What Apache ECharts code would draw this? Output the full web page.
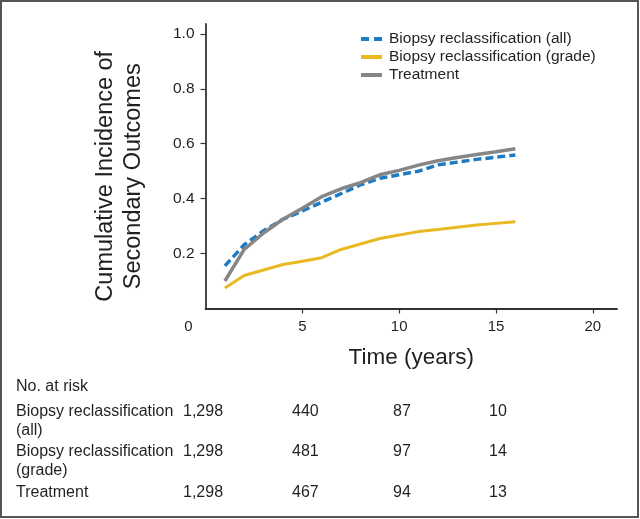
<!DOCTYPE html>
<html>
<head>
<meta charset="utf-8">
<script src="https://cdn.jsdelivr.net/npm/echarts@6/dist/echarts.min.js"></script>
<style>html,body{margin:0;padding:0;background:#fff}#c{width:640px;height:519px}</style>
</head>
<body>
<div id="c"></div>
<script>
// ---- Data ----
const seriesNames = ['Biopsy reclassification (all)', 'Biopsy reclassification (grade)', 'Treatment'];
const timeYears = [1, 2, 3, 4, 5, 6, 7, 8, 9, 10, 11, 12, 13, 14, 15, 16];
const incidenceAll = [0.155, 0.232, 0.283, 0.325, 0.355, 0.387, 0.418, 0.450, 0.474, 0.487, 0.500, 0.523, 0.533, 0.543, 0.551, 0.559];
const incidenceGrade = [0.075, 0.120, 0.140, 0.160, 0.172, 0.185, 0.215, 0.235, 0.255, 0.268, 0.280, 0.288, 0.296, 0.304, 0.310, 0.316];
const incidenceTreatment = [0.100, 0.215, 0.275, 0.325, 0.365, 0.407, 0.436, 0.458, 0.487, 0.503, 0.522, 0.538, 0.550, 0.561, 0.571, 0.582];
const xTickValues = [5, 10, 15, 20];
const xLabelValues = [0, 5, 10, 15, 20];
const yTickValues = [0.2, 0.4, 0.6, 0.8, 1.0];
const riskHeader = 'No. at risk';
const riskLabels = ['Biopsy reclassification\n(all)', 'Biopsy reclassification\n(grade)', 'Treatment'];
const riskAll = [1298, 440, 87, 10];
const riskGrade = [1298, 481, 97, 14];
const riskTreatment = [1298, 467, 94, 13];

// ---- Layout / style ----
const FONT = '"Liberation Sans", Arial, sans-serif';
const TXT = '#231f20';
const colors = ['#1d7bc3', '#e8b922', '#868686'];
const dashes = [[8, 4], 'solid', 'solid'];
const legendDashes = [[8, 5], 'solid', 'solid'];
const riskColX = [183, 292, 393, 489];
const riskRowY = [412, 452, 493];
const riskLeft = 16;

const pairs = (xs, ys) => xs.map((x, i) => [x, ys[i]]);

const graphic = [
  { type: 'rect', shape: { x: 1, y: 1, width: 637, height: 516 }, style: { fill: 'none', stroke: '#555', lineWidth: 2 }, silent: true },
  { type: 'text', x: riskLeft, y: 387, style: { text: riskHeader, fontSize: 16, fontFamily: FONT, fill: TXT, verticalAlign: 'middle' } }
];
const riskData = [riskAll, riskGrade, riskTreatment];
riskLabels.forEach((lab, r) => {
  graphic.push({ type: 'text', x: riskLeft, y: riskRowY[r] - 9.5, style: { text: lab, fontSize: 16, lineHeight: 19, fontFamily: FONT, fill: TXT, verticalAlign: 'top' } });
  riskData[r].forEach((v, c) => {
    graphic.push({ type: 'text', x: riskColX[c], y: riskRowY[r], style: { text: v.toLocaleString('en-US'), fontSize: 16, fontFamily: FONT, fill: TXT, verticalAlign: 'middle' } });
  });
});

const legendData = seriesNames.map((n, i) => ({
  name: n,
  itemStyle: { opacity: 0 },
  lineStyle: { color: colors[i], width: 4, type: legendDashes[i] }
}));

const chart = echarts.init(document.getElementById('c'), null, { renderer: 'canvas' });
chart.setOption({
  animation: false,
  backgroundColor: '#fff',
  textStyle: { fontFamily: FONT },
  grid: { left: 205.5, right: 23, top: 24, bottom: 210.5, containLabel: false },
  legend: {
    orient: 'vertical', left: 359, top: 30, padding: 0,
    data: legendData,
    itemWidth: 21, itemHeight: 10, itemGap: 0,
    itemStyle: { opacity: 0 },
    textStyle: { fontSize: 15.5, lineHeight: 18, color: TXT, fontFamily: FONT, padding: [0, 0, 0, 2] }
  },
  xAxis: {
    type: 'value', min: 0, max: 21.25,
    name: 'Time (years)', nameLocation: 'middle', nameGap: 38,
    nameTextStyle: { fontSize: 22.5, color: TXT, fontFamily: FONT },
    axisLine: { show: true, onZero: false, lineStyle: { color: '#333', width: 1.8 } },
    axisTick: { show: true, length: 5, customValues: xTickValues, lineStyle: { color: '#333', width: 1.2 } },
    axisLabel: {
      customValues: xLabelValues, margin: 11, fontSize: 15, color: TXT, fontFamily: FONT,
      formatter: v => v === 0 ? '{o|0}' : String(v),
      rich: { o: { padding: [0, 34, 0, 0], fontSize: 15, color: TXT, fontFamily: FONT } }
    },
    splitLine: { show: false }
  },
  yAxis: {
    type: 'value', min: 0, max: 1.036,
    name: 'Cumulative Incidence of\nSecondary Outcomes', nameLocation: 'middle', nameGap: 58,
    nameTextStyle: { fontSize: 23.5, lineHeight: 28, color: TXT, fontFamily: FONT, padding: [0, 20, 0, 0] },
    axisLine: { show: true, onZero: false, lineStyle: { color: '#333', width: 1.8 } },
    axisTick: { show: true, length: 5, customValues: yTickValues, lineStyle: { color: '#333', width: 1.2 } },
    axisLabel: { customValues: yTickValues, margin: 11, fontSize: 15.5, color: TXT, fontFamily: FONT, formatter: v => v.toFixed(1) },
    splitLine: { show: false }
  },
  series: [
    { name: seriesNames[1], type: 'line', data: pairs(timeYears, incidenceGrade), symbol: 'none', z: 2,
      lineStyle: { color: colors[1], width: 3, type: dashes[1] }, itemStyle: { color: colors[1] } },
    { name: seriesNames[0], type: 'line', data: pairs(timeYears, incidenceAll), symbol: 'none', z: 3,
      lineStyle: { color: colors[0], width: 3.5, type: dashes[0] }, itemStyle: { color: colors[0] } },
    { name: seriesNames[2], type: 'line', data: pairs(timeYears, incidenceTreatment), symbol: 'none', z: 4,
      lineStyle: { color: colors[2], width: 3.5, type: dashes[2] }, itemStyle: { color: colors[2] } }
  ],
  graphic: graphic
});
</script>
</body>
</html>
